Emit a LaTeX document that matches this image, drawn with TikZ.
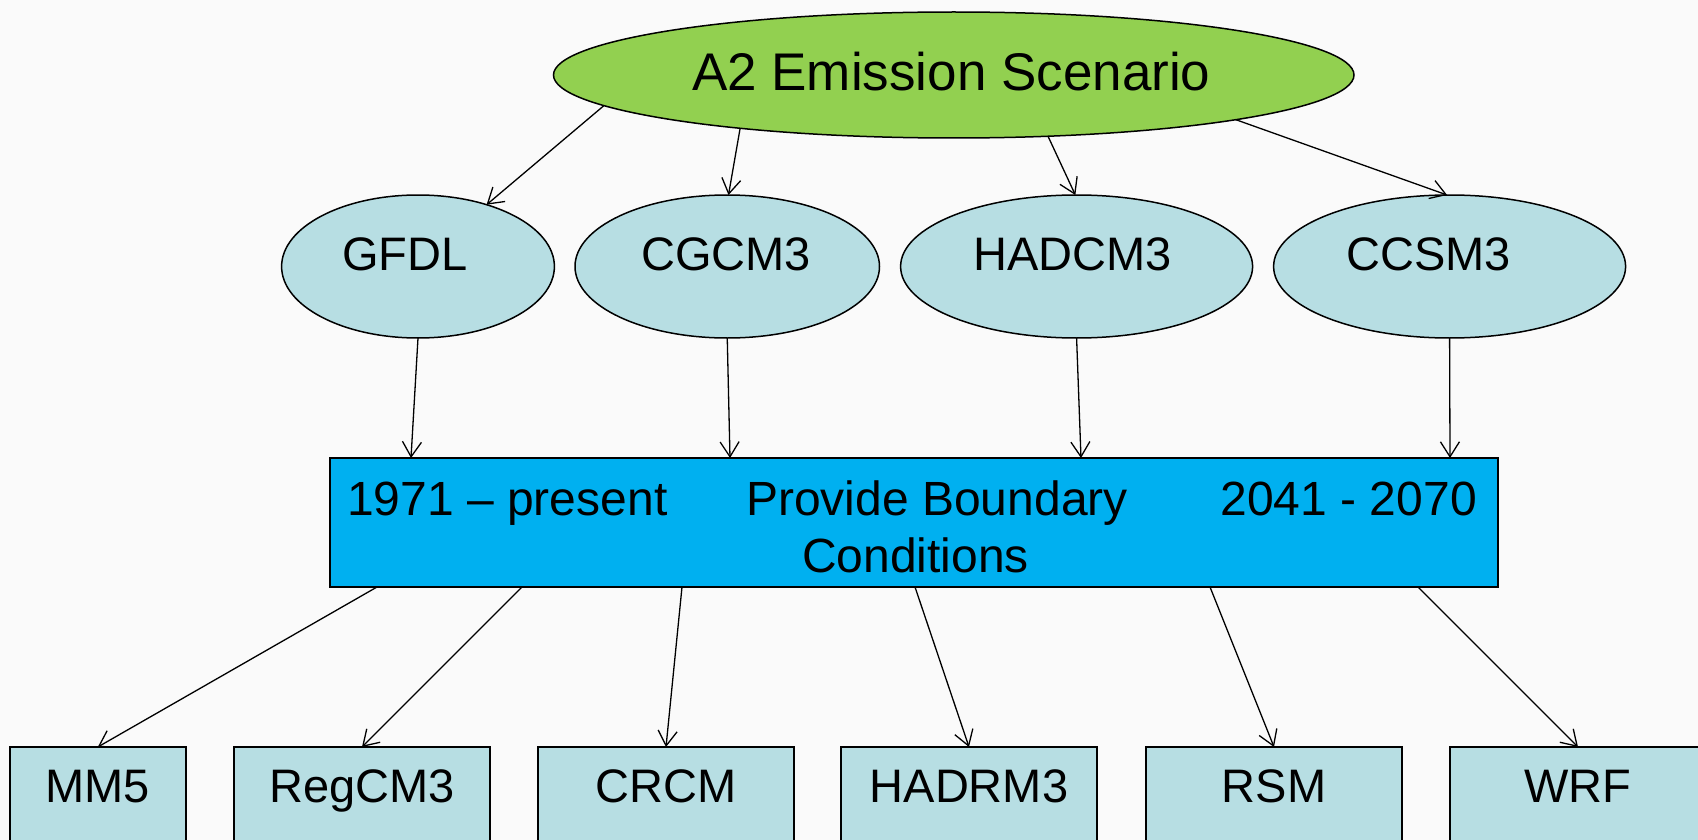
\documentclass[tikz,border=0pt]{standalone}
\usepackage{fontspec}
\setmainfont{Liberation Sans}
\usetikzlibrary{arrows.meta,shapes.geometric,calc}
\definecolor{bg}{HTML}{FAFAFA}
\definecolor{topgreen}{HTML}{92D050}
\definecolor{lightblue}{HTML}{B7DEE3}
\definecolor{boxblue}{HTML}{00B0F0}
\begin{document}
\begin{tikzpicture}[x=1pt,y=-1pt,
  conn/.style={draw=black, line width=1.3pt, -{Straight Barb[length=15pt,width=19pt,line width=1.3pt]}},
  lbl/.style={font=\fontsize{47}{56}\selectfont, inner sep=0pt},
  boxlbl/.style={font=\fontsize{48}{57}\selectfont, inner sep=0pt},
  gcm/.style={ellipse, draw, line width=1.5pt, fill=lightblue, inner sep=0pt, outer sep=0pt, minimum height=143pt},
  rcm/.style={rectangle, draw, line width=2pt, fill=lightblue, anchor=north, font=\fontsize{47}{56}\selectfont, text height=33.7pt, text depth=60pt, inner xsep=0pt, inner ysep=22pt, outer sep=0pt},
]
\useasboundingbox (0,0) rectangle (1698,840);
\fill[bg] (0,0) rectangle (1698,840);
\begin{scope}
\clip (0,0) rectangle (1698,840);
% top scenario
\node[ellipse, draw, line width=1.5pt, fill=topgreen, inner sep=0pt, outer sep=0pt,
      minimum width=800.5pt, minimum height=126pt,
      label={[font=\fontsize{53}{60}\selectfont, inner sep=0pt, xshift=-2.5pt, yshift=3pt]center:A2 Emission Scenario}] (a2) at (953.75,75) {};
% GCM ellipses
\node[gcm, minimum width=272.8pt, label={[lbl,xshift=-13pt,yshift=12pt]center:GFDL}] (gfdl) at (418,266.5) {};
\node[gcm, minimum width=304.5pt, label={[lbl,xshift=-1pt,yshift=12pt]center:CGCM3}] (cgcm) at (727.25,266.5) {};
\node[gcm, minimum width=352pt, label={[lbl,xshift=-4pt,yshift=12pt]center:HADCM3}] (hadcm) at (1076.6,266.5) {};
\node[gcm, minimum width=352pt, label={[lbl,xshift=-21pt,yshift=12pt]center:CCSM3}] (ccsm) at (1449.6,266.5) {};
% boundary conditions box
\node[rectangle, draw, line width=2pt, fill=boxblue, inner sep=0pt, outer sep=0pt,
      minimum width=1167.5pt, minimum height=129pt, anchor=north west] (bc) at (330,458) {};
\node[boxlbl, anchor=base west] (t1) at (347,515) {1971 – present};
\node[boxlbl, anchor=base] (t2) at (937,515) {Provide Boundary};
\node[boxlbl, anchor=base] (t3) at (915.4,572.7) {Conditions};
\node[boxlbl, anchor=base east] (t4) at (1477,515) {2041 - 2070};
% RCM boxes
\node[rcm, minimum width=176.4pt] (mm5) at (97.8,747) {MM5};
\node[rcm, minimum width=256pt] (regcm) at (362,747) {RegCM3};
\node[rcm, minimum width=256pt] (crcm) at (666,747) {CRCM};
\node[rcm, minimum width=256pt] (hadrm) at (969,747) {HADRM3};
\node[rcm, minimum width=256pt] (rsm) at (1274,747) {RSM};
\node[rcm, minimum width=256pt] (wrf) at (1578,747) {WRF};
% connectors: scenario -> GCMs
\draw[conn] (a2.185) -- (gfdl.42);
\draw[conn] (a2.194.5) -- (cgcm.89);
\draw[conn] (a2.327) -- (hadcm.91);
\draw[conn] (a2.351) -- (ccsm.92);
% GCMs -> box
\draw[conn] (gfdl.south) -- ($(bc.north west)+(81,0)$);
\draw[conn] (cgcm.south) -- ($(bc.north west)+(400,0)$);
\draw[conn] (hadcm.south) -- ($(bc.north west)+(751,0)$);
\draw[conn] (ccsm.south) -- ($(bc.north west)+(1120,0)$);
% box -> RCMs
\draw[conn] ($(bc.south west)+(47,0)$) -- (mm5.north);
\draw[conn] ($(bc.south west)+(192,0)$) -- (regcm.north);
\draw[conn] ($(bc.south west)+(352,0)$) -- (crcm.north);
\draw[conn] ($(bc.south west)+(585,0)$) -- (hadrm.north);
\draw[conn] ($(bc.south west)+(880,0)$) -- (rsm.north);
\draw[conn] ($(bc.south west)+(1088,0)$) -- (wrf.north);
\end{scope}
\end{tikzpicture}
\end{document}
